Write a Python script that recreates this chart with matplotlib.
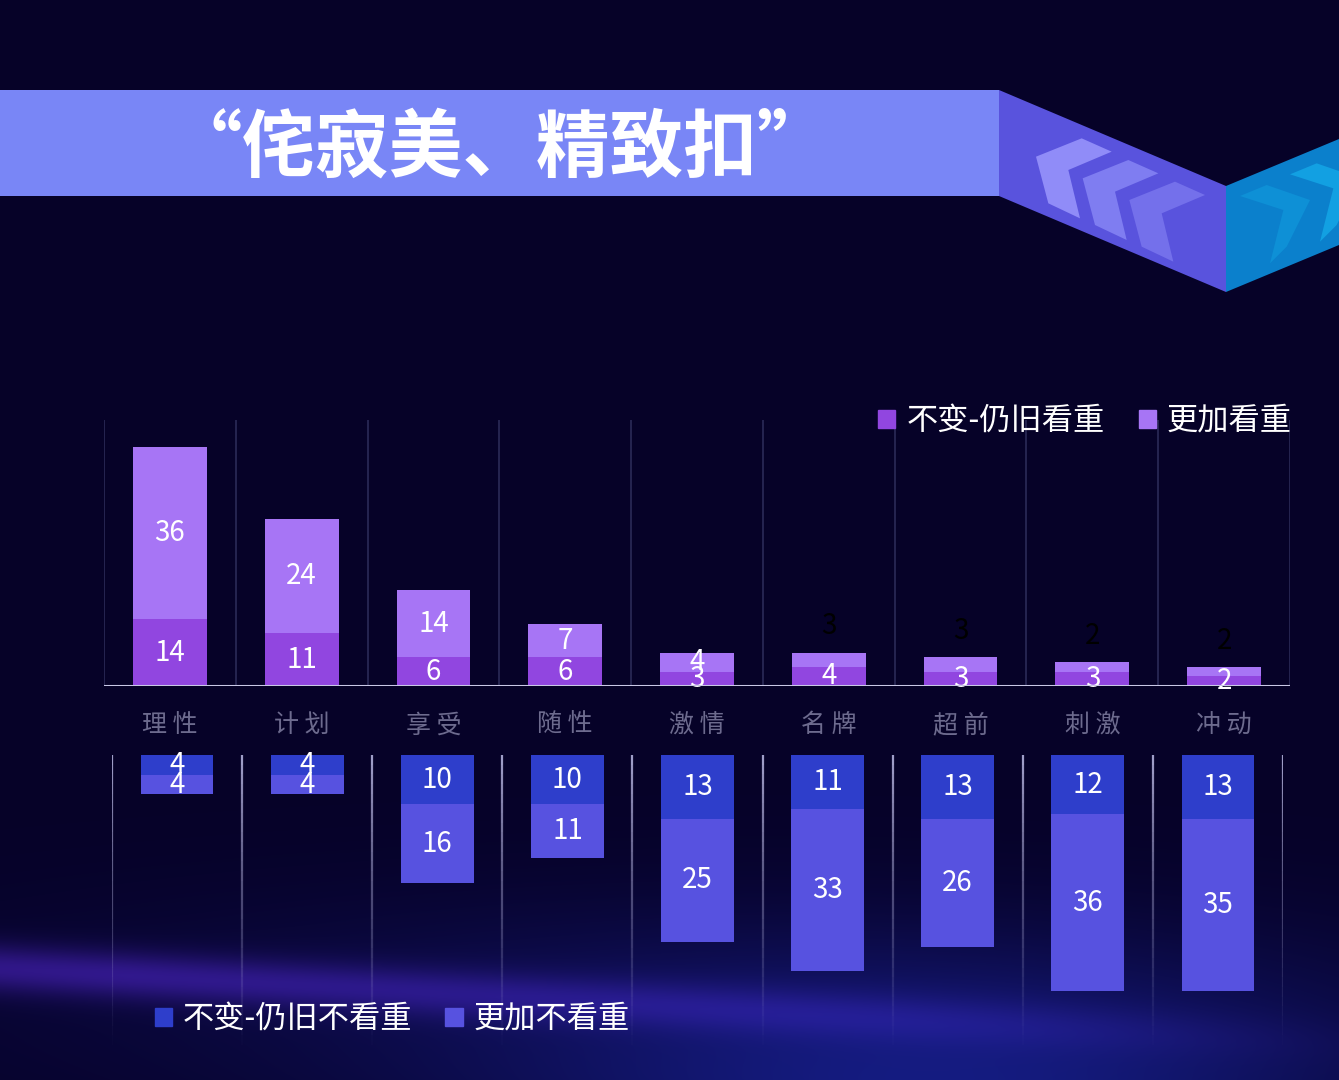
import matplotlib
matplotlib.use("Agg")
import matplotlib.pyplot as plt
from matplotlib.patches import Polygon, Patch
import numpy as np

plt.rcParams['font.family'] = ['Noto Sans CJK SC', 'DejaVu Sans']

# data
categories = ['理性', '计划', '享受', '随性', '激情', '名牌', '超前', '刺激', '冲动']
still_valued = [14, 11, 6, 6, 3, 4, 3, 3, 2]        # 不变-仍旧看重
more_valued = [36, 24, 14, 7, 4, 3, 3, 2, 2]         # 更加看重
still_not_valued = [4, 4, 10, 10, 13, 11, 13, 12, 13]  # 不变-仍旧不看重
more_not_valued = [4, 4, 16, 11, 25, 33, 26, 36, 35]   # 更加不看重
title = '“侘寂美、精致扣”'

W, H = 1339, 1080
fig = plt.figure(figsize=(W / 100, H / 100), dpi=100)

# background with soft glow near the bottom
bg = fig.add_axes([0, 0, 1, 1], zorder=-10)
yy, xx = np.mgrid[0:H, 0:W].astype(float)
img = np.zeros((H, W, 3))
img[:] = np.array([6, 2, 40]) / 255
yc = 968 + xx * 0.055
band = np.exp(-((yy - yc) / 24) ** 2) * np.clip(1.1 - xx / 1300, 0, 1)
img += band[..., None] * np.array([40, 18, 85]) / 255
glow = np.exp(-(((xx - 950) / 450) ** 2 + ((yy - 1100) / 120) ** 2))
img += glow[..., None] * np.array([12, 22, 75]) / 255
glow2 = np.exp(-(((xx - 700) / 700) ** 2 + ((yy - 1000) / 110) ** 2))
img += glow2[..., None] * np.array([6, 8, 30]) / 255
bg.imshow(np.clip(img, 0, 1), extent=[0, W, H, 0], aspect='auto')
bg.set_xlim(0, W)
bg.set_ylim(H, 0)
bg.axis('off')


def px(pts):
    return [(x / W, 1 - y / H) for x, y in pts]


# banner
fig.patches.append(Polygon(px([(0, 90), (999, 90), (999, 196), (0, 196)]),
                           closed=True, transform=fig.transFigure, fc='#7986F6', ec='none'))
fig.patches.append(Polygon(px([(999, 90), (1226, 186), (1226, 292), (999, 196)]),
                           closed=True, transform=fig.transFigure, fc='#5953DD', ec='none'))
fig.patches.append(Polygon(px([(1226, 186), (1339, 139), (1339, 245), (1226, 292)]),
                           closed=True, transform=fig.transFigure, fc='#0B80CC', ec='none'))
chev = [(108, 200), (245, 145), (335, 185), (205, 240), (240, 385), (145, 340)]
for k, c in enumerate(['#908CF8', '#7F7DF1', '#7470EB']):
    pts = [(1000 + (x + 140 * k) / 3, 90 + (y + 65 * k) / 3) for x, y in chev]
    fig.patches.append(Polygon(px(pts), closed=True, transform=fig.transFigure, fc=c, ec='none'))
bchev = [(720, 318), (800, 285), (930, 330), (860, 470), (810, 520), (850, 360)]
for k, c in enumerate(['#0E90D6', '#12A0E2']):
    pts = [(1000 + (x + 150 * k) / 3, 90 + (y - 65 * k) / 3) for x, y in bchev]
    fig.patches.append(Polygon(px(pts), closed=True, transform=fig.transFigure, fc=c, ec='none'))
fig.text(500 / W, 1 - 149 / H, title, color='white', fontsize=53, fontweight='heavy',
         ha='center', va='center')

# upper chart
ax = fig.add_axes([104 / W, 1 - 686 / H, 1186 / W, 266 / H])
ax.set_facecolor('none')
x = np.arange(len(categories))
bw = 0.56
ax.bar(x, still_valued, bw, color='#9146E0', zorder=3)
ax.bar(x, more_valued, bw, bottom=still_valued, color='#A775F5', zorder=3)
for i in range(len(categories)):
    ax.text(x[i], still_valued[i] / 2, str(still_valued[i]), color='white', fontsize=20,
            ha='center', va='center', zorder=4)
    top = still_valued[i] + more_valued[i]
    if more_valued[i] >= 4:
        ax.text(x[i], still_valued[i] + more_valued[i] / 2, str(more_valued[i]), color='white',
                fontsize=20, ha='center', va='center', zorder=4)
    else:
        ax.text(x[i], top + 5.5, str(more_valued[i]), color='#000000', fontsize=20,
                ha='center', va='center', zorder=4)
for g in np.arange(-0.5, len(categories), 1):
    ax.axvline(g, color='#2B2A58', lw=1.2, zorder=1)
ax.axhline(0, color='#C9C8E6', lw=2.2, zorder=5)
ax.set_xlim(-0.5, len(categories) - 0.5)
ax.set_ylim(0, 266 / 4.78)
ax.set_xticks(x)
ax.set_xticklabels([' '.join(c) for c in categories], color='#6D6B8E', fontsize=18)
ax.tick_params(axis='x', length=0, pad=19)
ax.set_yticks([])
for s in ax.spines.values():
    s.set_visible(False)
fig.legend(handles=[Patch(color='#9146E0', label='不变-仍旧看重'),
                    Patch(color='#A775F5', label='更加看重')],
           loc='center right', bbox_to_anchor=(1292 / W, 1 - 421 / H), ncol=2, frameon=False,
           fontsize=22.5, labelcolor='white', handlelength=0.55, handleheight=0.55,
           handletextpad=0.35, columnspacing=1.1, borderpad=0, borderaxespad=0)

# lower chart
ax2 = fig.add_axes([112 / W, 1 - 1045 / H, 1171 / W, 290 / H])
ax2.set_facecolor('none')
ax2.bar(x, still_not_valued, bw, color='#2E3ECB', zorder=3)
ax2.bar(x, more_not_valued, bw, bottom=still_not_valued, color='#5752E0', zorder=3)
for i in range(len(categories)):
    ax2.text(x[i], still_not_valued[i] / 2, str(still_not_valued[i]), color='white',
             fontsize=20, ha='center', va='center', zorder=4)
    ax2.text(x[i], still_not_valued[i] + more_not_valued[i] / 2, str(more_not_valued[i]),
             color='white', fontsize=20, ha='center', va='center', zorder=4)
ymax2 = 290 / 4.92
steps = 30
for g in np.arange(-0.5, len(categories), 1):
    for k in range(steps):
        y0 = ymax2 * k / steps
        y1 = ymax2 * (k + 1) / steps
        ax2.plot([g, g], [y0, y1], color='#B0AFDA', lw=1.6,
                 alpha=0.9 * (1 - k / steps) ** 1.2, zorder=1, solid_capstyle='butt')
ax2.set_xlim(-0.5, len(categories) - 0.5)
ax2.set_ylim(ymax2, 0)
ax2.set_xticks([])
ax2.set_yticks([])
for s in ax2.spines.values():
    s.set_visible(False)
fig.legend(handles=[Patch(color='#2E3ECB', label='不变-仍旧不看重'),
                    Patch(color='#5752E0', label='更加不看重')],
           loc='center left', bbox_to_anchor=(155 / W, 1 - 1019 / H), ncol=2, frameon=False,
           fontsize=22.5, labelcolor='white', handlelength=0.55, handleheight=0.55,
           handletextpad=0.35, columnspacing=1.05, borderpad=0, borderaxespad=0)

fig.savefig('out.png', dpi=100, facecolor='#06022A')
